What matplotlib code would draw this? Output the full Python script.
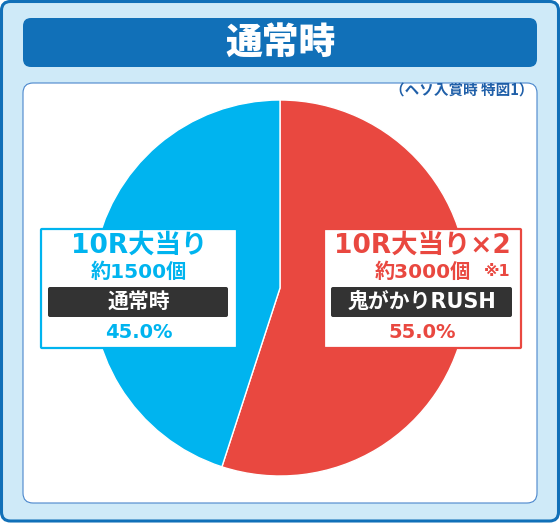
import matplotlib.pyplot as plt
from matplotlib.patches import FancyBboxPatch

plt.rcParams['font.family'] = ['DejaVu Sans', 'Noto Sans CJK JP']

W, H = 560, 523

title = '通常時'
note = '（ヘソ入賞時 特図1）'
shares = [55.0, 45.0]
colors = ['#e94840', '#00b4ef']
heads = ['10R大当り×2', '10R大当り']
counts = ['約3000個', '約1500個']
modes = ['鬼がかりRUSH', '通常時']
marks = ['※1', '']

DARK_BLUE = '#1170b8'


def Y(y):
    # image pixel row -> axes y
    return H - y


def rbox(ax, x0, y0, x1, y1, r, fc, ec='none', lw=0, z=1):
    p = FancyBboxPatch((x0, Y(y1)), x1 - x0, y1 - y0,
                       boxstyle=f'round,pad=0,rounding_size={r}',
                       fc=fc, ec=ec, lw=lw, zorder=z)
    ax.add_patch(p)


fig = plt.figure(figsize=(W / 100, H / 100), dpi=100)
ax = fig.add_axes([0, 0, 1, 1])

ax.pie(shares, colors=colors, startangle=90, counterclock=False,
       center=(280, Y(288)), radius=188, frame=True,
       wedgeprops=dict(edgecolor='white', linewidth=1, zorder=3))
ax.set_xlim(0, W)
ax.set_ylim(0, H)
ax.set_aspect('equal')
ax.axis('off')

# frame, banner, white panel
rbox(ax, 1.5, 1.5, 558.5, 521, 9, '#cfeaf8', DARK_BLUE, 2.2)
rbox(ax, 23, 18, 537, 67, 8, DARK_BLUE, z=2)
rbox(ax, 23, 83, 537, 503, 10, 'white', '#4a86cc', 0.8, z=2)

ax.text(281, Y(43), title, color='white', fontsize=26.5, fontweight='heavy',
        family=['Noto Sans CJK JP'], ha='center', va='center', zorder=3)
ax.text(533, Y(90), note, color='#1f5fa8', fontsize=10.5, fontweight='bold',
        family=['Noto Sans CJK JP'], ha='right', va='center', zorder=3)

# label boxes: right (red) then left (blue)
boxes = [(324, 521), (41, 237)]
for i in range(2):
    x0, x1 = boxes[i]
    cx = (x0 + x1) / 2
    col = colors[i]
    rbox(ax, x0, 229, x1, 348, 1, 'white', col, 1.6, z=4)
    rbox(ax, x0 + 7, 287, x1 - 9, 317, 2, '#333333', z=5)
    ax.text(cx, Y(246), heads[i], color=col, fontsize=19, fontweight='bold',
            ha='center', va='center', zorder=6)
    ax.text(cx, Y(272), counts[i], color=col, fontsize=14.5, fontweight='bold',
            ha='center', va='center', zorder=6)
    if marks[i]:
        ax.text(x1 - 24, Y(272), marks[i], color=col, fontsize=11.5,
                fontweight='bold', ha='center', va='center', zorder=6)
    ax.text(cx, Y(302), modes[i], color='white', fontsize=15, fontweight='bold',
            ha='center', va='center', zorder=6)
    ax.text(cx, Y(333), f'{shares[i]:.1f}%', color=col, fontsize=14,
            fontweight='bold', ha='center', va='center', zorder=6)

fig.savefig('out.png', dpi=100)
